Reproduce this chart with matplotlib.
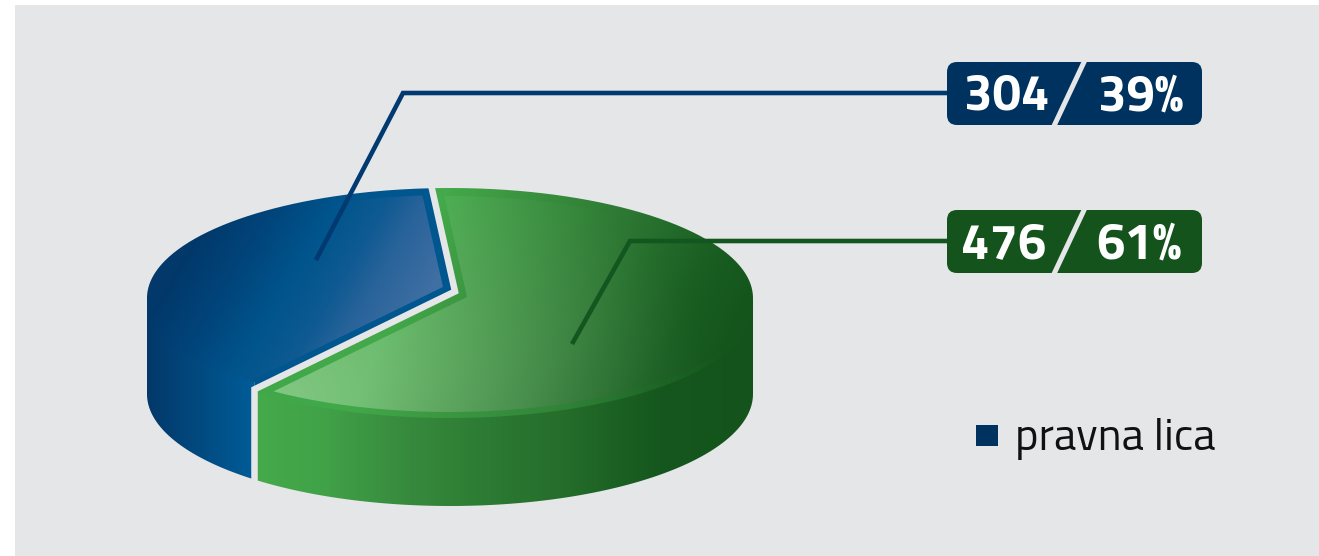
import numpy as np
import matplotlib
matplotlib.use('Agg')
import matplotlib.pyplot as plt
from matplotlib.colors import to_rgb
from matplotlib.patches import FancyBboxPatch, Rectangle
from matplotlib.path import Path

# data
slice_counts = [304, 476]
slice_percents = [39, 61]
legend_names = ['pravna lica']

W, H = 1319, 556
BG = '#E5E6E8'
NAVY = '#003260'
DARKGREEN = '#14531C'
FONT = ['Titillium Web', 'Roboto']

fig = plt.figure(figsize=(W / 100, H / 100), dpi=100)
ax = fig.add_axes([0, 0, 1, 1])
ax.axis('off')
ax.add_patch(Rectangle((15, 5), W - 15, H - 5, fc=BG, ec='none'))

yy, xx = np.mgrid[0:H, 0:W] + 0.5


def ramp(s, stops):
    # stops: list of (position, colour)
    pos = [p for p, c in stops]
    cols = np.array([to_rgb(c) for p, c in stops])
    return np.dstack([np.interp(s, pos, cols[:, i]) for i in range(3)])


def paint(rgb, points):
    im = ax.imshow(rgb, extent=(0, W, H, 0), aspect='auto', interpolation='bilinear', zorder=2)
    im.set_clip_path(Path(np.vstack([points, points[:1]])), ax.transData)


def arc(e, a0, a1, n=120):
    cx, cy, rx, ry = e
    t = np.radians(np.linspace(a0, a1, n))
    return np.column_stack([cx + rx * np.cos(t), cy - ry * np.sin(t)])


def angle_at_x(e, x):
    # angle on the lower half of the ellipse at this x
    return 360 - np.degrees(np.arccos((x - e[0]) / e[2]))


def ray_hit(origin, d, e):
    cx, cy, rx, ry = e
    ox, oy = (origin[0] - cx) / rx, (origin[1] - cy) / ry
    dx, dy = d[0] / rx, d[1] / ry
    a, b, c = dx * dx + dy * dy, 2 * (ox * dx + oy * dy), ox * ox + oy * oy - 1
    t = (-b + np.sqrt(b * b - 4 * a * c)) / (2 * a)
    p = np.array([origin[0] + t * d[0], origin[1] + t * d[1]])
    ang = np.degrees(np.arctan2(-(p[1] - cy) / ry, (p[0] - cx) / rx)) % 360
    return p, ang


def ray_dir(theta):
    return np.array([np.cos(np.radians(theta)), -np.sin(np.radians(theta)) * TILT])


# pie geometry, the split follows the data
TILT = 0.345
APEX = np.array([455, 291.5])
SEAM_X = 254.5
theta0 = 94.43
theta1 = theta0 + 360 * slice_counts[0] / sum(slice_counts)

TOP = (450, 298, 303, 110)
BOTTOM = (450, 394, 303, 112)
BLUE_EDGE = (460, 300, 320, 107)
GREEN_EDGE = (450, 308, 303, 110)

d0, d1 = ray_dir(theta0), ray_dir(theta1)
hit_top, ang_top = ray_hit(APEX, d0, TOP)
corner = APEX + d1 * (SEAM_X - APEX[0]) / d1[0]

# side walls
blue_side = np.vstack([[(147, 298)], arc(BOTTOM, 180, angle_at_x(BOTTOM, SEAM_X)), [(SEAM_X, 300)]])
paint(ramp(xx, [(147, '#02386A'), (200, '#024A80'), (250, '#005B96')]), blue_side)

green_side = np.vstack([[(SEAM_X, 300)], arc(BOTTOM, angle_at_x(BOTTOM, SEAM_X), 360), [(753, 300)]])
paint(ramp(xx, [(258, '#44AA4A'), (320, '#41A348'), (400, '#388C3E'), (490, '#2C7A33'),
                (560, '#256E2B'), (660, '#15571E'), (753, '#14541C')]), green_side)

# blue top face
s_blue = 0.85 * xx + 0.5 * yy
blue_stops = [(285, '#02386A'), (335, '#01447A'), (385, '#00548C'), (430, '#0F5A92'),
              (460, '#28639A'), (510, '#3F6FA3')]
rim_stops = blue_stops[:3] + [(420, '#00568F')]
blue_top = np.vstack([[APEX], arc(TOP, ang_top, 180), [(147, 322)],
                      arc(BLUE_EDGE, angle_at_x(BLUE_EDGE, 147.5), angle_at_x(BLUE_EDGE, SEAM_X)),
                      [corner]])
paint(ramp(s_blue, rim_stops), blue_top)

apex_in = np.array([443, 287])
TOP_IN = (450, 298, 297, 103)
p_u, a_u = ray_hit(apex_in, d0, TOP_IN)
p_l, a_l = ray_hit(apex_in, d1, BLUE_EDGE)
blue_facet = np.vstack([[apex_in], arc(TOP_IN, a_u, 180),
                        arc(BLUE_EDGE, angle_at_x(BLUE_EDGE, 153), a_l)])
paint(ramp(s_blue, blue_stops), blue_facet)

# green top face
s_green = 0.9 * xx + 0.4 * yy
green_base = ramp(s_green, [(480, '#43A94A'), (525, '#3E9A43'), (653, '#2C7732'),
                            (742, '#1A5E22'), (794, '#14551C')])
green_top = np.vstack([[APEX], [corner],
                       arc(GREEN_EDGE, angle_at_x(GREEN_EDGE, SEAM_X), 360), [(753, 298)],
                       arc(TOP, 0, ang_top)])
# the front rim catches a bit more light than the wall below it
rim_a = (0.35 * np.clip((yy - 300) / 100, 0, 1) * np.clip((740 - xx) / 200, 0, 1))[..., None]
rim_tint = np.array(to_rgb('#3FA848'))
paint(green_base * (1 - rim_a) + rim_tint * rim_a, green_top)

apex_in_g = np.array([467, 297])
TOP_IN_G = (450, 304, 300, 108)
q_u, b_u = ray_hit(apex_in_g, d0, TOP_IN_G)
q_l, b_l = ray_hit(apex_in_g, d1, TOP_IN_G)
green_facet = np.vstack([[apex_in_g], arc(TOP_IN_G, b_u, b_l - 360)])
dist = np.sqrt(((xx - 280) / 430) ** 2 + ((yy - 395) / 300) ** 2)
alpha = (0.42 * np.clip(1 - dist, 0, 1) ** 1.2)[..., None]
tint = np.array(to_rgb('#D8F0D0'))
paint(green_base * (1 - alpha) + tint * alpha, green_facet)

# gap between the two slices
far_top = APEX + d0 * (APEX[1] - 175) / -d0[1]
gap = np.array([far_top, APEX, corner, (SEAM_X, 500)])
ax.plot(gap[:, 0], gap[:, 1], color=BG, lw=4.7, solid_joinstyle='miter', solid_capstyle='butt', zorder=3)

# leader lines
ax.plot([316, 403, 950], [260, 93, 93], color='#003A70', lw=3.3, solid_joinstyle='miter',
        solid_capstyle='butt', zorder=4)
ax.plot([572, 630, 950], [344, 241, 241], color='#14561F', lw=3.3, solid_joinstyle='miter',
        solid_capstyle='butt', zorder=4)

# value badges
badges = [(62, NAVY), (210, DARKGREEN)]
for (top, col), count, pct, cx_n, cx_p in zip(badges, slice_counts, slice_percents, [1007, 1004], [1141, 1139]):
    ax.add_patch(FancyBboxPatch((947 + 10, top + 10), 255 - 20, 63 - 20,
                                boxstyle='round,pad=10,rounding_size=10', fc=col, ec='none', zorder=5))
    ax.plot([1085, 1053.5], [top - 2, top + 65], color=BG, lw=3.6, solid_capstyle='butt', zorder=6)
    ax.text(cx_n, top + 48, str(count), color='white', fontsize=36.5, fontweight='bold',
            family=FONT, ha='center', va='baseline', zorder=7)
    ax.text(cx_p, top + 48, f'{pct}%', color='white', fontsize=36.5, fontweight='bold',
            family=FONT, ha='center', va='baseline', zorder=7)

# legend
ax.add_patch(Rectangle((976, 425), 22, 21, fc=NAVY, ec='none', zorder=5))
ax.text(1015, 450, legend_names[0], color='#111111', fontsize=32,
        family=FONT, ha='left', va='baseline', zorder=5)

ax.set_xlim(0, W)
ax.set_ylim(H, 0)
fig.savefig('out.png', dpi=100, facecolor='white')
